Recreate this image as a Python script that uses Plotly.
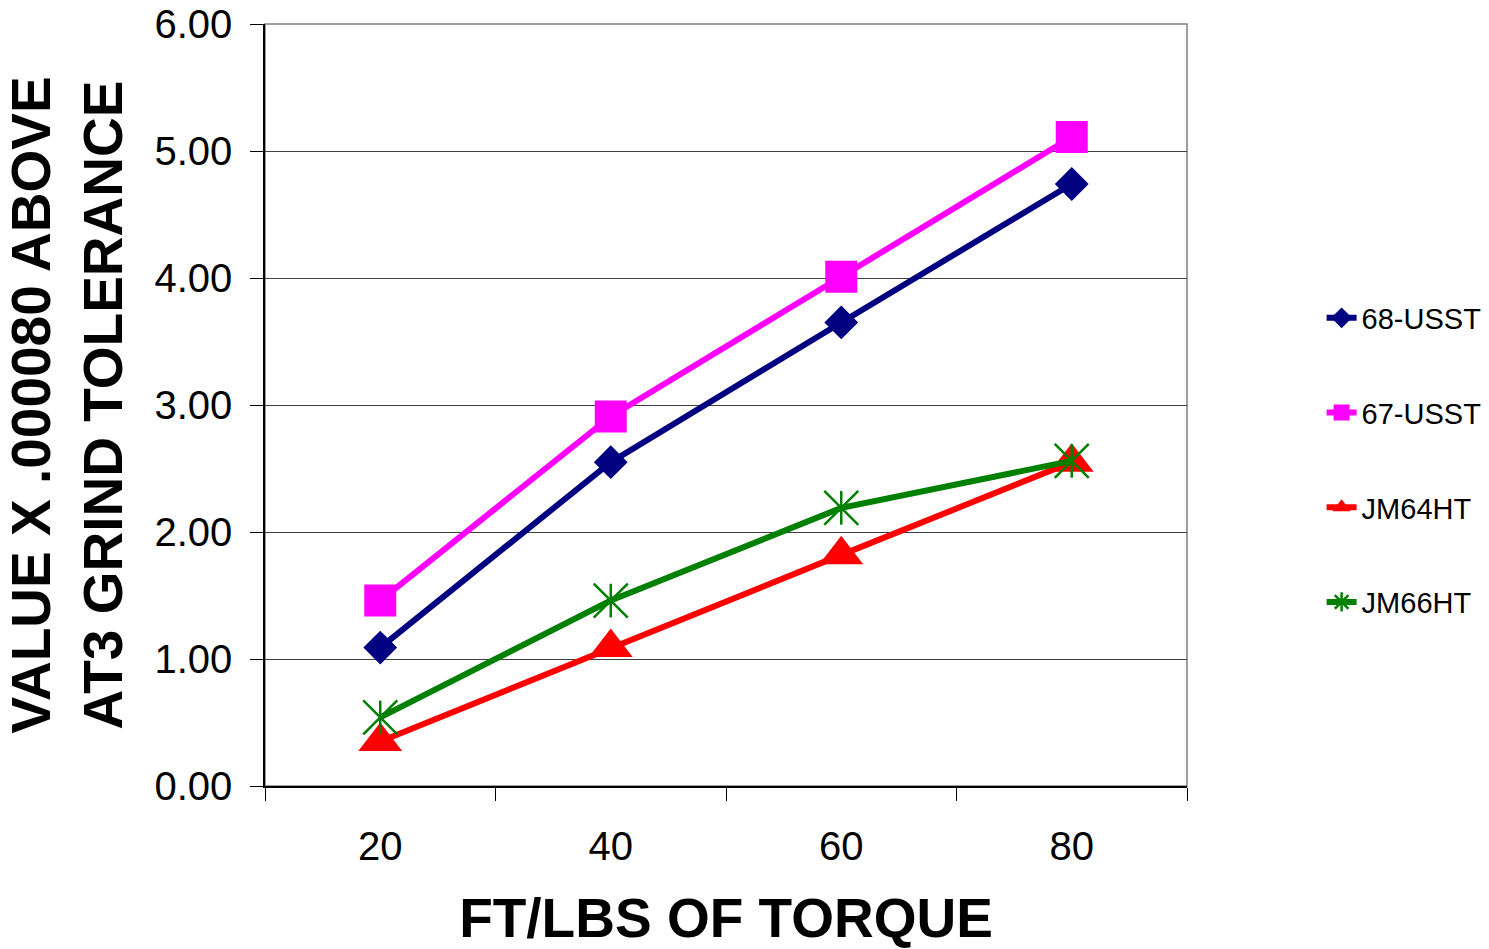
import plotly.graph_objects as go

torque = ["20", "40", "60", "80"]
usst68 = [1.09, 2.55, 3.65, 4.74]
usst67 = [1.46, 2.91, 4.01, 5.11]
jm64ht = [0.35, 1.09, 1.82, 2.55]
jm66ht = [0.54, 1.46, 2.19, 2.56]

NAVY = "#000080"
MAGENTA = "#FF00FF"
RED = "#FF0000"
GREEN = "#008000"
FONT = "Liberation Sans, Arial, sans-serif"

fig = go.Figure()
fig.add_trace(go.Scatter(x=torque, y=usst68, name="68-USST", mode="lines+markers",
                         legendgroup="a",
                         line=dict(color=NAVY, width=6),
                         marker=dict(symbol="diamond", size=26, color=NAVY)))
fig.add_trace(go.Scatter(x=torque, y=usst67, name="67-USST", mode="lines+markers",
                         legendgroup="b",
                         line=dict(color=MAGENTA, width=6),
                         marker=dict(symbol="square", size=32, color=MAGENTA)))
fig.add_trace(go.Scatter(x=torque, y=jm64ht, name="JM64HT", mode="lines+markers",
                         legendgroup="c",
                         line=dict(color=RED, width=6),
                         marker=dict(symbol="triangle-up", size=38, color=RED)))
fig.add_trace(go.Scatter(x=torque, y=jm66ht, name="JM66HT", mode="lines+markers",
                         legendgroup="d", showlegend=False,
                         line=dict(color=GREEN, width=6),
                         marker=dict(symbol="x-thin-open", size=34, color=GREEN,
                                     line=dict(color=GREEN, width=2.5))))
fig.add_trace(go.Scatter(x=torque, y=jm66ht, name="JM66HT", mode="markers",
                         legendgroup="d", showlegend=False,
                         marker=dict(symbol="line-ns-open", size=24, color=GREEN,
                                     line=dict(color=GREEN, width=2.5))))
# legend entry for the star symbol
fig.add_trace(go.Scatter(x=[None], y=[None], name="JM66HT", mode="lines+markers",
                         legendgroup="d",
                         line=dict(color=GREEN, width=6),
                         marker=dict(symbol="asterisk-open", size=22, color=GREEN,
                                     line=dict(color=GREEN, width=2.5))))

fig.update_layout(
    width=1489, height=949,
    margin=dict(l=265, r=302, t=24, b=163, autoexpand=False),
    paper_bgcolor="white", plot_bgcolor="white",
    font=dict(family=FONT, color="black"),
    legend=dict(x=1.146, xanchor="left", y=(786 - 460) / 762, yanchor="middle",
                font=dict(size=29, family=FONT), tracegroupgap=54,
                bgcolor="rgba(0,0,0,0)"),
    shapes=[dict(type="rect", xref="paper", yref="paper", x0=0, x1=1, y0=0, y1=1,
                 line=dict(color="#808080", width=1.5), layer="below")],
)
fig.update_xaxes(type="category", range=[-0.5, 3.5], tickson="boundaries",
                 ticks="outside", ticklen=13, tickcolor="black", tickwidth=1,
                 showgrid=False, showline=True, linecolor="black", linewidth=1.5,
                 automargin=False, ticklabeloverflow="allow",
                 tickfont=dict(size=40, family=FONT), ticklabelstandoff=24,
                 title=dict(text="FT/LBS OF TORQUE",
                            font=dict(size=55, family=FONT, weight="bold"),
                            standoff=38))
fig.update_yaxes(range=[0, 6], dtick=1, tickformat=".2f",
                 ticks="outside", ticklen=13, tickcolor="black", tickwidth=1,
                 showgrid=True, gridcolor="#404040", gridwidth=1,
                 showline=True, linecolor="black", linewidth=1.5, zeroline=False,
                 automargin=False, ticklabeloverflow="allow",
                 tickfont=dict(size=40, family=FONT), ticklabelstandoff=10,
                 title=dict(text="VALUE X .000080 ABOVE<br>AT3 GRIND TOLERANCE",
                            font=dict(size=55, family=FONT, weight="bold"),
                            standoff=35))

fig.write_html("out.html", config={"displayModeBar": False},
               post_script="document.body.style.margin='0px';")
